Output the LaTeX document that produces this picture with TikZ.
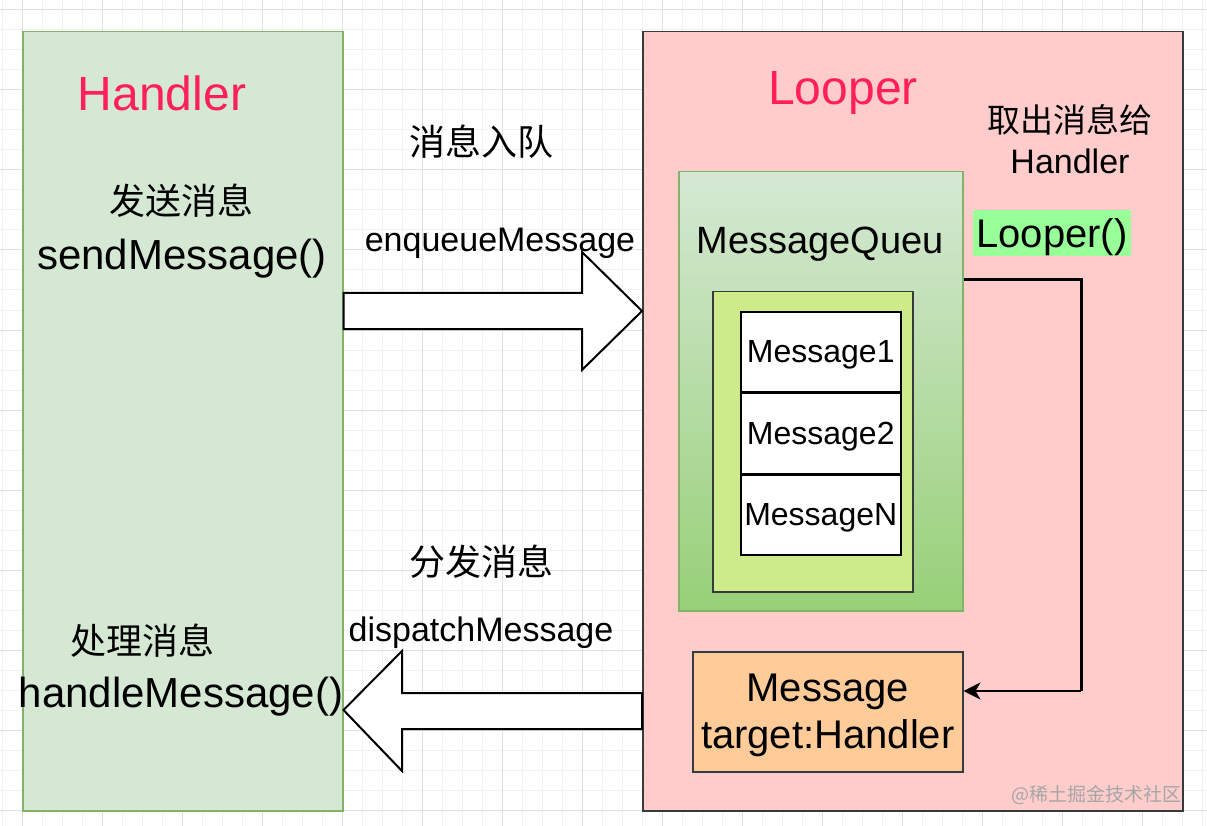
\documentclass[tikz,border=0pt]{standalone}
\usepackage{fontspec}
\setmainfont{Liberation Sans}
\newfontfamily\cjk{Noto Sans CJK SC}
\usetikzlibrary{positioning,calc,arrows.meta}
\definecolor{hgreen}{HTML}{D5E8D4}
\definecolor{hgreenline}{HTML}{82B366}
\definecolor{lpink}{HTML}{FFCCCC}
\definecolor{darkline}{HTML}{36393D}
\definecolor{qbottom}{HTML}{97D077}
\definecolor{qinner}{HTML}{CDEB8B}
\definecolor{tgtorange}{HTML}{FFCC99}
\definecolor{titlered}{HTML}{FF1F5A}
\definecolor{hilite}{HTML}{99FF99}
\definecolor{gridminor}{HTML}{F1F1F1}
\definecolor{gridmajor}{HTML}{E0E0E0}
\newcommand{\fsz}[1]{\fontsize{#1}{#1}\selectfont}

\begin{document}
\begin{tikzpicture}[x=1pt,y=-1pt,
  panel/.style={draw,line width=1.5pt,anchor=north west,inner sep=0pt},
  cell/.style={draw=black,line width=1.5pt,fill=white,anchor=north west,text depth=0pt,
    minimum width=160pt,minimum height=80pt,inner sep=0pt,font=\fsz{32}},
  lbl/.style={inner sep=0pt},
  blockarrow/.style={draw=black,fill=white,line width=2pt,line join=miter}]
\useasboundingbox (0,0) rectangle (1207,826);
\fill[white] (0,0) rectangle (1207,826);
\foreach \x in {2,22,...,1202} \draw[gridminor,line width=1pt] (\x,0) -- (\x,826);
\foreach \y in {10,30,...,826} \draw[gridminor,line width=1pt] (0,\y) -- (1207,\y);
\foreach \x in {22,102,...,1202} \draw[gridmajor,line width=1pt] (\x,0) -- (\x,826);
\foreach \y in {10,90,...,826} \draw[gridmajor,line width=1pt] (0,\y) -- (1207,\y);

\node[panel,draw=hgreenline,fill=hgreen,minimum width=320pt,minimum height=779pt] (handler) at (22,31) {};
\node[panel,draw=darkline,fill=lpink,minimum width=540pt,minimum height=779pt] (looper) at (642,31) {};
\node[panel,draw=hgreenline,top color=hgreen,bottom color=qbottom,minimum width=284pt,minimum height=439pt] (mqueue) at (678,171) {};
\node[panel,draw=darkline,fill=qinner,minimum width=200pt,minimum height=300pt] (mbox) at (712,291) {};
\node[cell] (msg1) at (740,311) {Message1};
\node[cell,below=0pt of msg1] (msg2) {Message2};
\node[cell,below=0pt of msg2] (msgN) {MessageN};
\node[panel,draw=darkline,fill=tgtorange,minimum width=270pt,minimum height=120pt] (tgt) at (692,651) {};
\node[lbl,align=center,font=\fontsize{40}{47}\selectfont] (tgttext) at ($(tgt.center)+(0,4)$) {Message\\target:Handler};

\node[lbl,text=titlered,font=\fsz{48}] (htitle) at (162,93) {Handler};
\node[lbl,font=\cjk\fsz{36}] (hsendcn) at (181,201) {发送消息};
\node[lbl,font=\fsz{42}] (hsend) at (182,259) {sendMessage()};
\node[lbl,font=\cjk\fsz{36}] (hhandlecn) at (142,641) {处理消息};
\node[lbl,font=\fsz{42}] (hhandle) at (181,697) {handleMessage()};
\node[lbl,text=titlered,font=\fsz{48}] (ltitle) at (843,93) {Looper};
\node[lbl,font=\cjk\fsz{33}] (takecn) at (1070,120) {取出消息给};
\node[lbl,font=\fsz{34}] (takeen) at (1070,161) {Handler};
\node[lbl,font=\fsz{38}] (qtitle) at (820,244) {MessageQueu};
\node[fill=hilite,inner sep=0pt,text depth=0pt,minimum width=158pt,minimum height=46pt,font=\fsz{40}] (loopfn) at (1052,233) {Looper()};
\node[lbl,font=\cjk\fsz{36}] (enqcn) at (481,142) {消息入队};
\node[lbl,font=\fsz{34}] (enqen) at (500,243) {enqueueMessage};
\node[lbl,font=\cjk\fsz{36}] (dispcn) at (481,562) {分发消息};
\node[lbl,font=\fsz{34}] (dispen) at (481,633) {dispatchMessage};
\node[lbl,anchor=east,text=black!35,font=\cjk\fsz{19}] (mark) at (1182,795) {@稀土掘金技术社区};

\draw[blockarrow] (handler.east |- 0,293) -- (582,293) -- (582,252) -- (looper.west |- 0,311)
  -- (582,370) -- (582,329) -- (handler.east |- 0,329) -- cycle;
\draw[blockarrow] (looper.west |- 0,693) -- (402,693) -- (402,651) -- (handler.east |- 0,710)
  -- (402,771) -- (402,729) -- (looper.west |- 0,729) -- cycle;

\coordinate (bendA) at (1081,280);
\coordinate (bendB) at (1081,691);
\draw[line width=3pt,line join=miter] (mqueue.east |- bendA) -- (bendA) -- (bendB);
\draw[line width=2pt,-{Stealth[length=17pt,width=17pt,inset=5pt]}] (bendB) -- (tgt.east |- bendB);
\end{tikzpicture}
\end{document}
